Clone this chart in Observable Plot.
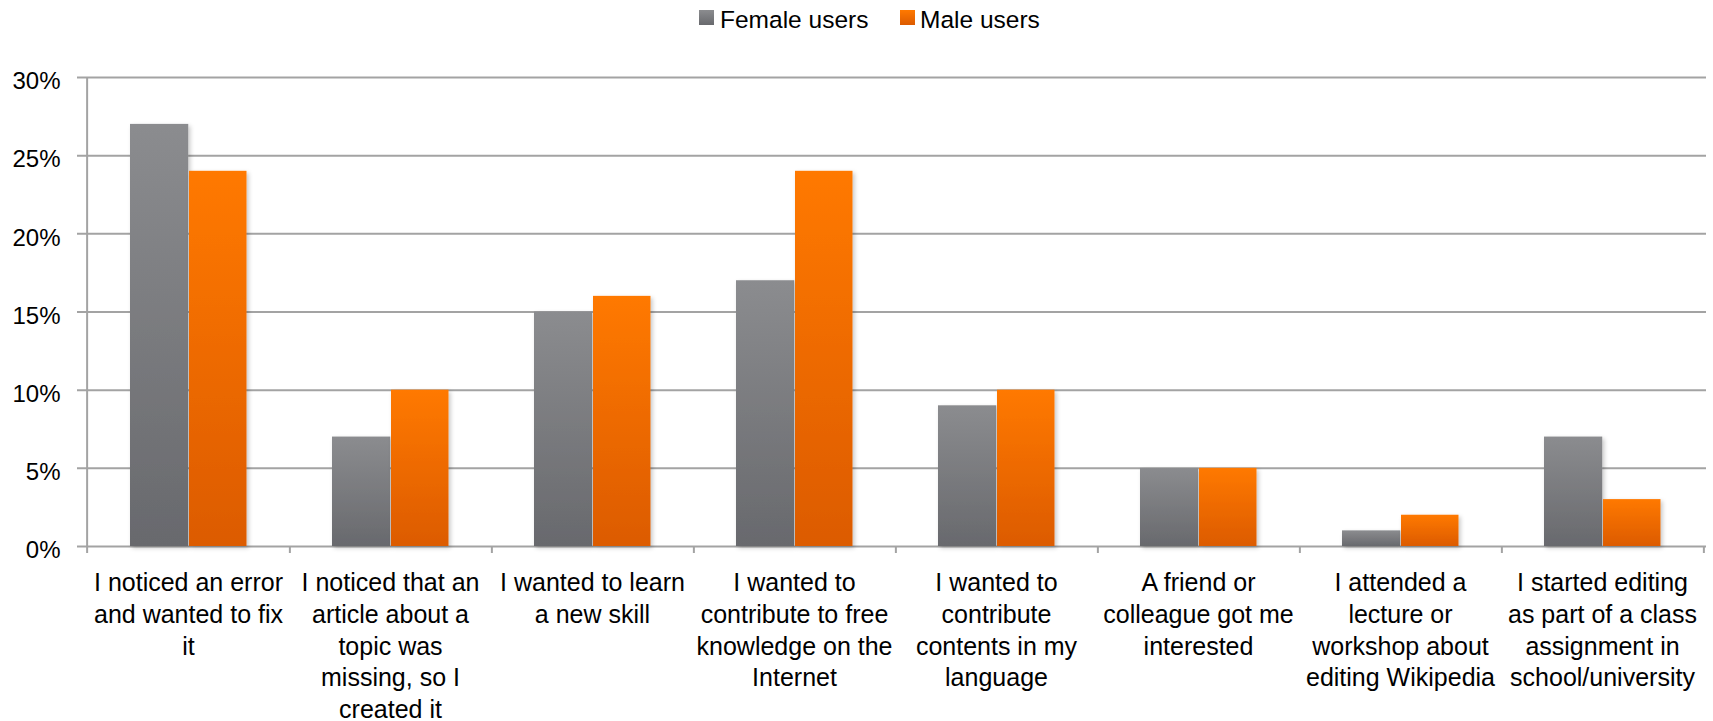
<!DOCTYPE html>
<html>
<head>
<meta charset="utf-8">
<script src="https://cdn.jsdelivr.net/npm/d3@7"></script>
<script src="https://cdn.jsdelivr.net/npm/@observablehq/plot@0.6"></script>
<style>
  html, body { margin: 0; padding: 0; background: #fff; }
  body { font-family: "Liberation Sans", Arial, sans-serif; width: 1713px; height: 721px; overflow: hidden; }
  #legend { position: relative; height: 40px; width: 1713px; }
  #legend .sw { position: absolute; top: 10px; width: 15px; height: 15px; }
  #legend .lb { position: absolute; top: 6px; font-size: 24.5px; line-height: 28px; color: #000; white-space: nowrap; }
</style>
</head>
<body>
<div id="legend"></div>
<div id="chart"></div>
<script>
// ---- data ----
const categories = [
  "I noticed an error and wanted to fix it",
  "I noticed that an article about a topic was missing, so I created it",
  "I wanted to learn a new skill",
  "I wanted to contribute to free knowledge on the Internet",
  "I wanted to contribute contents in my language",
  "A friend or colleague got me interested",
  "I attended a lecture or workshop about editing Wikipedia",
  "I started editing as part of a class assignment in school/university"
];
const categoryLabels = [
  "I noticed an error\nand wanted to fix\nit",
  "I noticed that an\narticle about a\ntopic was\nmissing, so I\ncreated it",
  "I wanted to learn\na new skill",
  "I wanted to\ncontribute to free\nknowledge on the\nInternet",
  "I wanted to\ncontribute\ncontents in my\nlanguage",
  "A friend or\ncolleague got me\ninterested",
  "I attended a\nlecture or\nworkshop about\nediting Wikipedia",
  "I started editing\nas part of a class\nassignment in\nschool/university"
];
const seriesNames = ["Female users", "Male users"];
const femaleValues = [27, 7, 15, 17, 9, 5, 1, 7];
const maleValues = [24, 10, 16, 24, 10, 5, 2, 3];
const yTicks = [0, 5, 10, 15, 20, 25, 30];

const rows = categories.map((c, i) => ({
  category: c, label: categoryLabels[i], female: femaleValues[i], male: maleValues[i]
}));

// ---- layout ----
const W = 1713, H = 681;
const mL = 84, mR = 7, mT = 37, mB = 175;
const bw = (W - mL - mR) / categories.length;
const axisColor = "#a3a3a3";

const chart = Plot.plot({
  width: W, height: H,
  marginLeft: mL, marginRight: mR, marginTop: mT, marginBottom: mB,
  style: { fontFamily: "'Liberation Sans', Arial, sans-serif", color: "#000", background: "#fff", overflow: "visible" },
  x: { type: "band", domain: categories, padding: 0, axis: null },
  y: { domain: [0, 30], axis: null },
  marks: [
    Plot.ruleY(yTicks, { y: d => d, stroke: axisColor, strokeWidth: 2, insetLeft: -7 }),
    Plot.ruleX(categories.slice(0, 1), { x: d => d, dx: -bw / 2, y1: 30, y2: 0, insetBottom: -7, stroke: axisColor, strokeWidth: 2 }),
    Plot.ruleX(categories, { x: d => d, dx: bw / 2, y1: 0, y2: 0, insetBottom: -7, stroke: axisColor, strokeWidth: 2 }),
    Plot.barY(rows, { x: "category", y: "female", fill: "url(#gradFemale)", insetLeft: 43, insetRight: bw - 102 }),
    Plot.barY(rows, { x: "category", y: "male", fill: "url(#gradMale)", insetLeft: 102, insetRight: 42.5 }),
    Plot.text(yTicks, { y: d => d, text: d => d + "%", frameAnchor: "left", textAnchor: "end", dx: -24, dy: 4, fontSize: 24, fill: "#000" }),
    Plot.text(rows, { x: "category", text: "label", frameAnchor: "bottom", lineAnchor: "top", dy: 22, fontSize: 25, lineHeight: 1.27, fill: "#000" })
  ]
});

// gradients + shadow
const svg = d3.select(chart);
const defs = svg.insert("defs", ":first-child");
function grad(id, top, bottom) {
  const g = defs.append("linearGradient").attr("id", id).attr("x1", 0).attr("y1", 0).attr("x2", 0).attr("y2", 1);
  g.append("stop").attr("offset", "0%").attr("stop-color", top);
  g.append("stop").attr("offset", "100%").attr("stop-color", bottom);
}
grad("gradFemale", "#8b8c8f", "#68696d");
grad("gradMale", "#ff7900", "#dc5b00");
const f = defs.append("filter").attr("id", "barShadow").attr("x", "-20%").attr("y", "-20%").attr("width", "140%").attr("height", "140%");
f.append("feDropShadow").attr("dx", 2).attr("dy", 2).attr("stdDeviation", 2).attr("flood-color", "#000").attr("flood-opacity", 0.22);
svg.selectAll("g[aria-label='bar']").attr("filter", "url(#barShadow)");

document.getElementById("chart").appendChild(chart);

// legend
const legend = document.getElementById("legend");
const legendItems = [
  { name: seriesNames[0], sw: 699, lb: 720, bg: "linear-gradient(#8b8c8f, #68696d)" },
  { name: seriesNames[1], sw: 900, lb: 920, bg: "linear-gradient(#ff7900, #dc5b00)" }
];
for (const it of legendItems) {
  const s = document.createElement("div");
  s.className = "sw"; s.style.left = it.sw + "px"; s.style.background = it.bg;
  legend.appendChild(s);
  const t = document.createElement("div");
  t.className = "lb"; t.style.left = it.lb + "px"; t.textContent = it.name;
  legend.appendChild(t);
}
</script>
</body>
</html>
